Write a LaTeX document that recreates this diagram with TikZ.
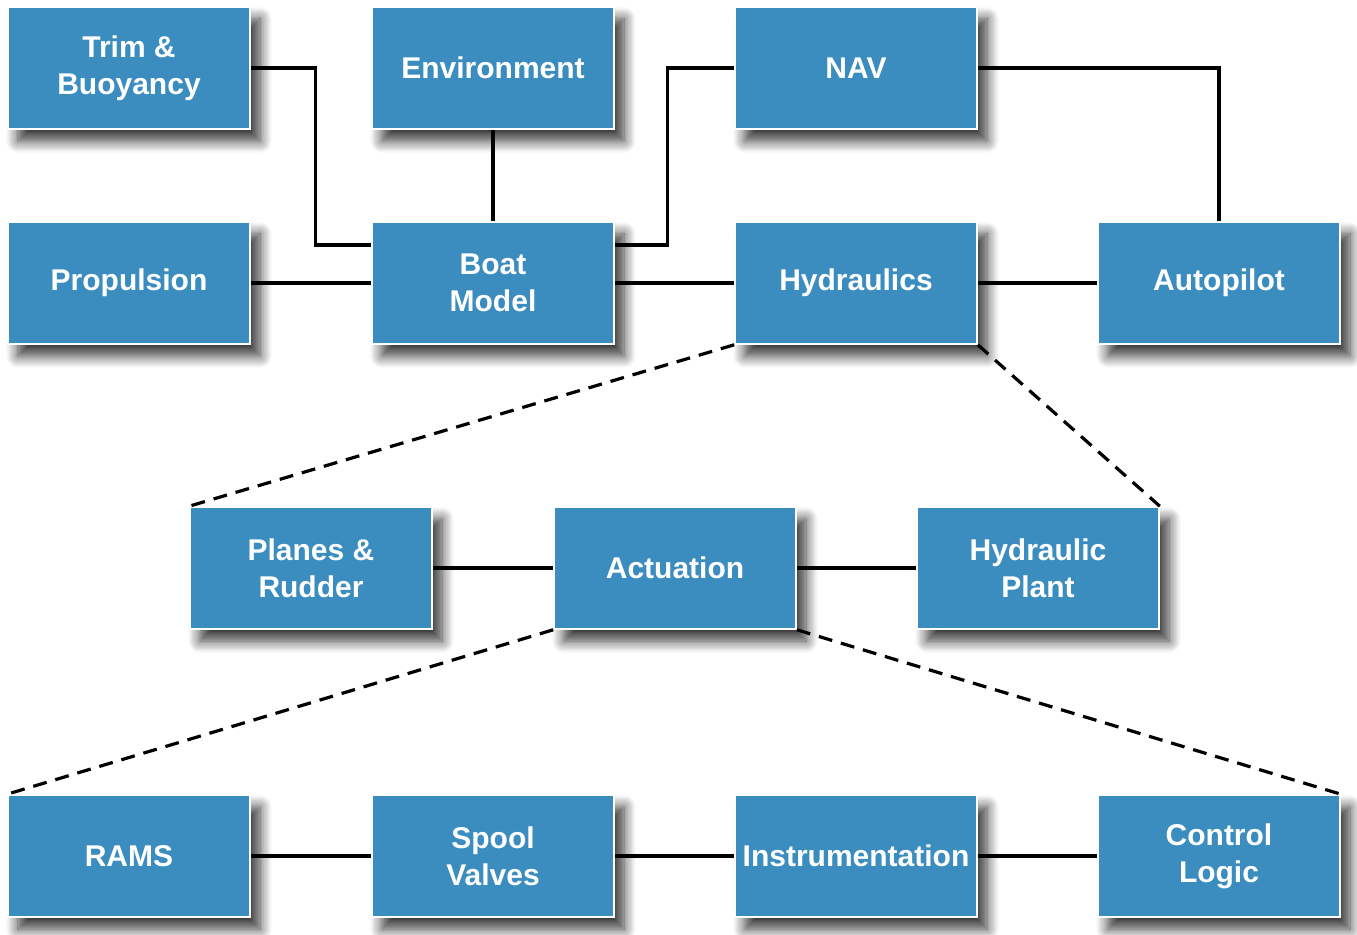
\documentclass[tikz,border=0pt]{standalone}
\usepackage{fontspec}
\setmainfont{Liberation Sans}
\usetikzlibrary{shadows.blur}
\definecolor{boxblue}{HTML}{3A8DBE}
\begin{document}
\begin{tikzpicture}[x=0.5pt,y=-0.5pt,
  blk/.style={rectangle, fill=boxblue, draw=white, line width=0.8pt,
    minimum width=121pt, minimum height=61pt, inner sep=0pt,
    text=white, font=\fontsize{15}{18.5}\selectfont\bfseries, align=center,
    blur shadow={shadow xshift=5pt, shadow yshift=-6pt, shadow blur radius=6pt, shadow blur steps=10, shadow opacity=80}},
  link/.style={draw=black, line width=1.6pt},
  dlink/.style={draw=black, line width=1.6pt, dash pattern=on 7pt off 4.5pt}]
\useasboundingbox (0,0) rectangle (1357,935);
\node[blk] (trim) at (129,68) {Trim \&\\Buoyancy};
\node[blk] (env) at (493,68) {Environment};
\node[blk] (nav) at (856,68) {NAV};
\node[blk] (prop) at (129,283) {Propulsion};
\node[blk] (boat) at (493,283) {Boat\\Model};
\node[blk] (hyd) at (856,283) {Hydraulics};
\node[blk] (auto) at (1219,283) {Autopilot};
\node[blk] (planes) at (311,568) {Planes \&\\Rudder};
\node[blk] (act) at (675,568) {Actuation};
\node[blk] (hp) at (1038,568) {Hydraulic\\Plant};
\node[blk] (rams) at (129,856) {RAMS};
\node[blk] (spool) at (493,856) {Spool\\Valves};
\node[blk] (instr) at (856,856) {Instrumentation};
\node[blk] (cl) at (1219,856) {Control\\Logic};
\draw[link] (trim.east) -- ++(65,0) |- ([yshift=19pt]boat.west);
\draw[link] (env.south) -- (boat.north);
\draw[link] (prop.east) -- (boat.west);
\draw[link] ([yshift=19pt]boat.east) -- ++(53,0) |- (nav.west);
\draw[link] (boat.east) -- (hyd.west);
\draw[link] (nav.east) -| (auto.north);
\draw[link] (hyd.east) -- (auto.west);
\draw[dlink] (hyd.south west) -- (planes.north west);
\draw[dlink] (hyd.south east) -- (hp.north east);
\draw[link] (planes.east) -- (act.west);
\draw[link] (act.east) -- (hp.west);
\draw[dlink] (act.south west) -- (rams.north west);
\draw[dlink] (act.south east) -- (cl.north east);
\draw[link] (rams.east) -- (spool.west);
\draw[link] (spool.east) -- (instr.west);
\draw[link] (instr.east) -- (cl.west);
\end{tikzpicture}
\end{document}
